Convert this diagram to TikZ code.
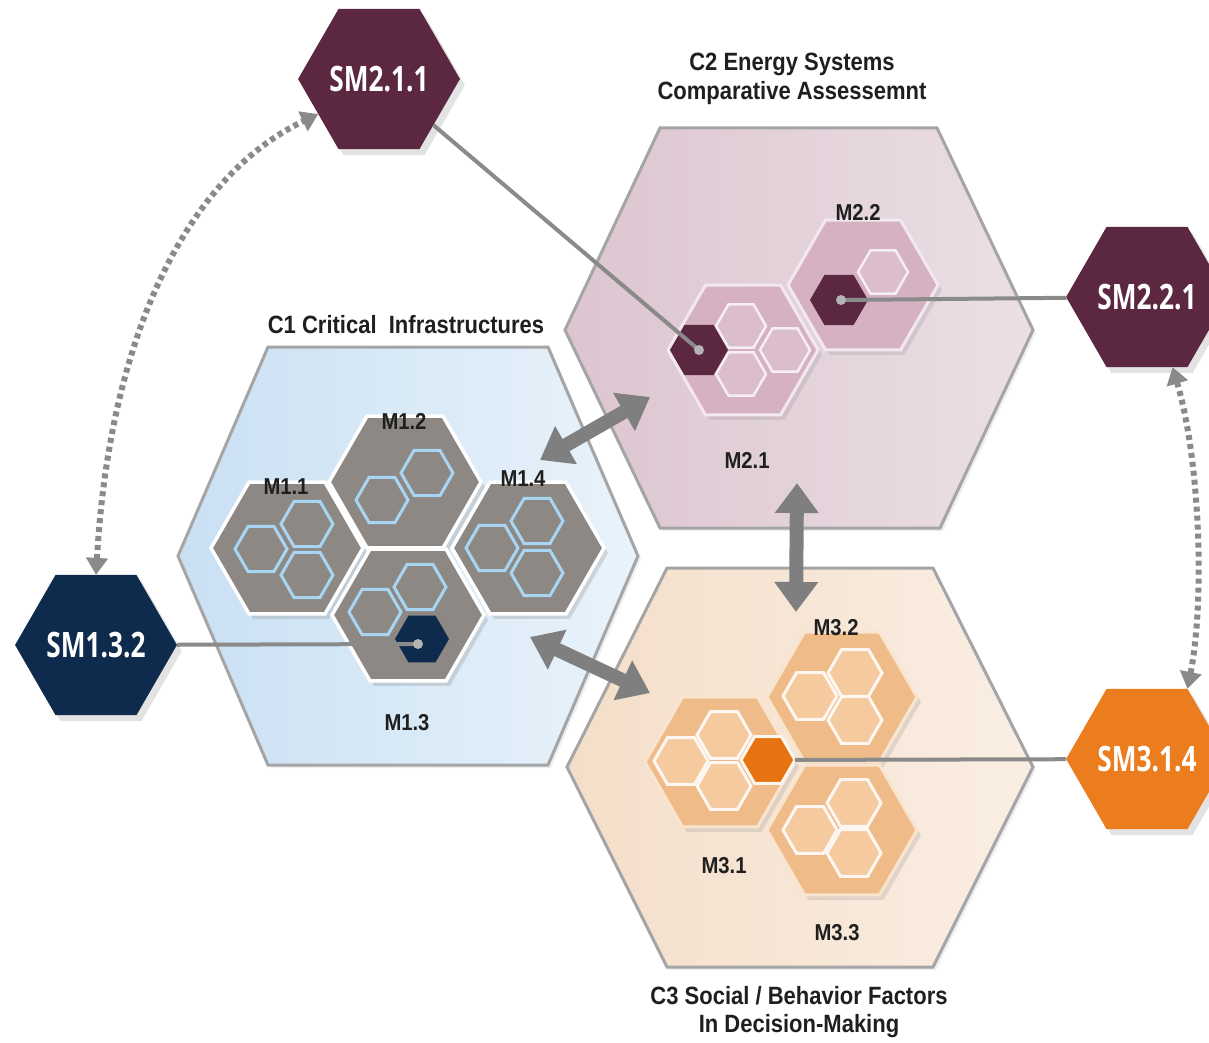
\documentclass[tikz,border=0pt]{standalone}
\usepackage{fontspec}
\setmainfont{Liberation Sans}
\newfontfamily\smfont[FakeStretch=0.75]{Open Sans}
\newfontfamily\labfont[FakeStretch=0.88]{Liberation Sans}
\usetikzlibrary{shapes.geometric,arrows.meta,shadows}
\definecolor{hexborder}{HTML}{A5A5A5}
\definecolor{conea}{HTML}{C9E0F3}
\definecolor{coneb}{HTML}{E9F3FB}
\definecolor{ctwoa}{HTML}{DCC5D0}
\definecolor{ctwob}{HTML}{EBDFE5}
\definecolor{cthreea}{HTML}{F4DEC9}
\definecolor{cthreeb}{HTML}{FAEEE3}
\definecolor{medgray}{HTML}{8D8883}
\definecolor{skyline}{HTML}{A8D5F3}
\definecolor{pinkmed}{HTML}{D5B1C2}
\definecolor{pinksmall}{HTML}{DBBDCB}
\definecolor{plum}{HTML}{5C2741}
\definecolor{navy}{HTML}{0E2A4C}
\definecolor{orgmed}{HTML}{EFBC89}
\definecolor{orgsmall}{HTML}{F5CA9F}
\definecolor{orgdark}{HTML}{E5730F}
\definecolor{orgsm}{HTML}{EC7D1E}
\definecolor{arrowgray}{HTML}{7F7F7F}
\definecolor{linegray}{HTML}{8A8A8A}
\definecolor{dotgray}{HTML}{B4B4B4}
\begin{document}
\begin{tikzpicture}[x=1pt,y=-1pt,
  hexshape/.style={regular polygon, regular polygon sides=6, inner sep=0pt, outer sep=0pt},
  bighex/.style={draw=hexborder, line width=3pt, line join=miter,
    drop shadow={shadow xshift=3pt, shadow yshift=-3pt, opacity=0.12}},
  medone/.style={hexshape, minimum size=152pt, fill=medgray, draw=white, line width=3.5pt,
    drop shadow={shadow xshift=4pt, shadow yshift=-5pt, opacity=0.25}},
  medtwo/.style={hexshape, minimum size=150pt, fill=pinkmed, draw=white!70!pinkmed, line width=3pt,
    drop shadow={shadow xshift=4pt, shadow yshift=-5pt, opacity=0.2}},
  medthree/.style={hexshape, minimum size=150pt, fill=orgmed, draw=white!60!orgmed, line width=3pt,
    drop shadow={shadow xshift=4pt, shadow yshift=-5pt, opacity=0.2}},
  smallone/.style={hexshape, minimum size=52pt, fill=medgray, draw=skyline, line width=3pt},
  smalltwo/.style={hexshape, minimum size=50pt, fill=pinksmall, draw=white!75!pinksmall, line width=2.5pt},
  smallthree/.style={hexshape, minimum size=54pt, fill=orgsmall, draw=white!85!orgsmall, line width=3pt},
  darkhex/.style={hexshape, minimum size=54pt, draw=none},
  smhex/.style={hexshape, minimum size=158pt, text=white,
    font=\smfont\bfseries\fontsize{35}{40}\selectfont,
    drop shadow={shadow xshift=5pt, shadow yshift=-6pt, opacity=0.22}},
  lab/.style={font=\labfont\bfseries\fontsize{25}{28.5}\selectfont, text=black!88, align=center},
  mlab/.style={font=\labfont\bfseries\fontsize{23}{26}\selectfont, text=black!88},
  conn/.style={draw=linegray, line width=4pt},
  bigarrow/.style={draw=arrowgray, line width=14pt,
    {Triangle[length=30pt,width=42pt,fill=arrowgray]}-{Triangle[length=30pt,width=42pt,fill=arrowgray]}},
  dasharrow/.style={draw=linegray, line width=6pt, dash pattern=on 5pt off 4pt,
    {Triangle[length=17pt,width=21pt,fill=linegray]}-{Triangle[length=17pt,width=21pt,fill=linegray]}},
]
\useasboundingbox (0,0) rectangle (1209,1043);
\fill[white] (0,0) rectangle (1209,1043);

% big hexagons
\path[bighex, left color=conea, right color=coneb]
  (268,347) -- (548,347) -- (638,556) -- (548,765) -- (268,765) -- (178,556) -- cycle;
\path[bighex, left color=ctwoa, right color=ctwob]
  (660,128) -- (937,128) -- (1033,330) -- (940,528) -- (660,528) -- (565,330) -- cycle;
\path[bighex, left color=cthreea, right color=cthreeb]
  (667,568) -- (933,568) -- (1033,767) -- (933,967) -- (667,967) -- (567,767) -- cycle;

% C1 modules
\node[medone] (m11) at (287,548) {};
\node[medone] (m12) at (405,482) {};
\node[medone] (m14) at (528,548) {};
\node[medone] (m13) at (408,615) {};
\node[smallone] (s11a) at (261,549) {};
\node[smallone] (s11b) at (307,524) {};
\node[smallone] (s11c) at (307,575) {};
\node[smallone] (s12a) at (382,500) {};
\node[smallone] (s12b) at (427,473) {};
\node[smallone] (s13a) at (375,612) {};
\node[smallone] (s13b) at (420,587) {};
\node[darkhex, fill=navy] (d13) at (422,639) {};
\node[smallone] (s14a) at (492,548) {};
\node[smallone] (s14b) at (537,521) {};
\node[smallone] (s14c) at (537,573) {};

% C2 modules
\node[medtwo] (m21) at (743,350) {};
\node[medtwo] (m22) at (863,285) {};
\node[smalltwo] (s21a) at (741,326) {};
\node[smalltwo] (s21b) at (741,374) {};
\node[smalltwo] (s21c) at (785,350) {};
\node[darkhex, minimum size=58pt, fill=plum] (d21) at (699,350) {};
\node[smalltwo] (s22a) at (883,272) {};
\node[darkhex, minimum size=58pt, fill=plum] (d22) at (839,300) {};

% C3 modules
\node[medthree] (m32) at (842,697) {};
\node[medthree] (m33) at (842,830) {};
\node[medthree] (m31) at (720,762) {};
\node[smallthree] (s31a) at (681,761) {};
\node[smallthree] (s31b) at (724,735) {};
\node[smallthree] (s31c) at (724,786) {};
\node[darkhex, fill=orgdark, draw=white!85!orgsmall, line width=3pt] (o31) at (768,760) {};
\node[smallthree] (s32a) at (810,696) {};
\node[smallthree] (s32b) at (855,673) {};
\node[smallthree] (s32c) at (855,720) {};
\node[smallthree] (s33a) at (810,830) {};
\node[smallthree] (s33b) at (854,803) {};
\node[smallthree] (s33c) at (854,853) {};

% sub-module nodes
\node[smhex, fill=plum] (sm211) at (379,79) {SM2.1.1};
\node[smhex, fill=plum] (sm221) at (1147,297) {SM2.2.1};
\node[smhex, fill=navy] (sm132) at (96,645) {SM1.3.2};
\node[smhex, fill=orgsm] (sm314) at (1147,759) {SM3.1.4};

% connector end points (dots)
\coordinate (p21) at (699,350);
\coordinate (p22) at (841,300);
\coordinate (p13) at (418,644);

% connectors
\draw[conn] (sm211) -- (p21);
\draw[conn] (sm221) -- (p22);
\draw[conn] (sm132) -- (p13);
\draw[conn] (sm314) -- (o31);
\fill[dotgray] (p21) circle (5);
\fill[dotgray] (p22) circle (5);
\fill[dotgray] (p13) circle (5);

% dashed curved arrows
\coordinate (lc1) at (110,330);
\coordinate (lc2) at (190,175);
\draw[dasharrow] (sm132.north) .. controls (lc1) and (lc2) .. (sm211.210);
\coordinate (rc1) at (1200,460);
\coordinate (rc2) at (1205,600);
\draw[dasharrow] (sm221.-70) .. controls (rc1) and (rc2) .. (sm314.60);

% big double arrows
\coordinate (a1s) at (540,460);
\coordinate (a1e) at (650,397);
\coordinate (a2s) at (797,483);
\coordinate (a2e) at (796,612);
\coordinate (a3s) at (530,637);
\coordinate (a3e) at (650,693);
\draw[bigarrow] (a1s) -- (a1e);
\draw[bigarrow] (a2s) -- (a2e);
\draw[bigarrow] (a3s) -- (a3e);

% labels
\node[lab] (c1lab) at (406,325) {C1 Critical\ \ Infrastructures};
\node[lab] (c2lab) at (792,79) {C2 Energy Systems\\Comparative Assessemnt};
\node[lab] (c3lab) at (799,1012) {C3 Social / Behavior Factors\\In Decision-Making};
\node[mlab] (l11) at (286,487) {M1.1};
\node[mlab] (l12) at (404,421) {M1.2};
\node[mlab] (l14) at (523,479) {M1.4};
\node[mlab] (l13) at (407,723) {M1.3};
\node[mlab] (l21) at (747,460) {M2.1};
\node[mlab] (l22) at (858,212) {M2.2};
\node[mlab] (l32) at (836,628) {M3.2};
\node[mlab] (l31) at (724,866) {M3.1};
\node[mlab] (l33) at (837,933) {M3.3};
\end{tikzpicture}
\end{document}
